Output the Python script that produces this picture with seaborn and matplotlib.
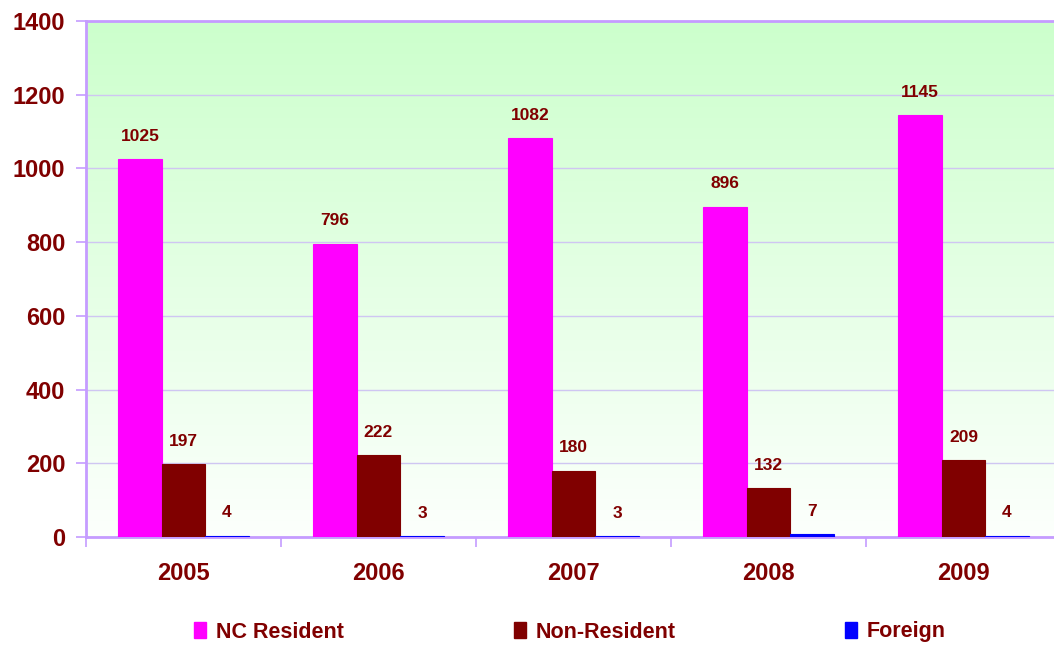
import numpy as np
import pandas as pd
import matplotlib
matplotlib.use("Agg")
import matplotlib.pyplot as plt
from matplotlib.patches import Patch
import seaborn as sns

years = ["2005", "2006", "2007", "2008", "2009"]
series_names = ["NC Resident", "Non-Resident", "Foreign"]
nc_resident = [1025, 796, 1082, 896, 1145]
non_resident = [197, 222, 180, 132, 209]
foreign = [4, 3, 3, 7, 4]
yticks = [0, 200, 400, 600, 800, 1000, 1200, 1400]

colors = ["#FF00FF", "#800000", "#0000FF"]
text_color = "#800000"
grid_color = "#CFC6F2"
spine_color = "#C59CFF"

sns.set_theme(style="white")
plt.rcParams['font.family'] = ['Liberation Sans', 'DejaVu Sans']

df = pd.DataFrame({
    "Year": years * 3,
    "Series": [series_names[0]] * 5 + [series_names[1]] * 5 + [series_names[2]] * 5,
    "Value": nc_resident + non_resident + foreign,
})

fig = plt.figure(figsize=(10.54, 6.45), dpi=100)
ax = fig.add_axes([86 / 1054, (645 - 537) / 645, 975 / 1054, 516 / 645])

# gradient background
grad = np.linspace(0, 1, 256).reshape(-1, 1)
top = np.array([0.80, 1.0, 0.80])
bot = np.array([0.99, 1.0, 0.99])
img = bot + (top - bot) * grad
img = img.reshape(256, 1, 3)
ax.imshow(img, extent=[0, 1, 0, 1], transform=ax.transAxes, aspect="auto",
          origin="lower", zorder=-10)

sns.barplot(data=df, x="Year", y="Value", hue="Series", palette=colors,
            width=0.67, gap=0, ax=ax, legend=False, saturation=1, zorder=3,
            linewidth=0)

for container, c in zip(ax.containers, colors):
    for b in container:
        b.set_edgecolor(c)
        b.set_linewidth(0.8)

ax.set_xlim(-0.5, 4.5)
ax.set_ylim(0, 1400)
ax.set_yticks(yticks)
ax.set_yticklabels([str(v) for v in yticks], fontsize=17, fontweight="bold",
                   color=text_color)
ax.set_xticks(range(5))
ax.set_xticklabels(years, fontsize=17, fontweight="bold", color=text_color)
ax.set_xticks(np.arange(-0.5, 5.0, 1.0), minor=True)
ax.tick_params(axis="x", which="major", length=0, pad=18)
ax.tick_params(axis="x", which="minor", length=7, width=1.2, color=spine_color,
               direction="out", bottom=True)
ax.tick_params(axis="y", length=7, width=1.2, color=spine_color, direction="out",
               left=True, pad=8)
ax.set_xlabel("")
ax.set_ylabel("")

ax.yaxis.grid(True, color=grid_color, linewidth=1.0, zorder=0)
ax.set_axisbelow(True)
for side in ["left", "top", "bottom"]:
    ax.spines[side].set_color(spine_color)
    ax.spines[side].set_linewidth(2)
ax.spines["right"].set_visible(False)

for container in ax.containers:
    labels = [f"{int(round(b.get_height()))}" for b in container]
    ax.bar_label(container, labels=labels, padding=11, fontsize=12.5,
                 fontweight="bold", color=text_color)

handles = [Patch(facecolor=c, edgecolor=c) for c in colors]
fig.legend(handles, series_names, loc="center", bbox_to_anchor=(0.541, 1 - 632 / 645),
           ncol=3, frameon=False, handlelength=0.55, handleheight=0.75,
           handletextpad=0.45, columnspacing=7.9,
           prop={"size": 15.5, "weight": "bold"}, labelcolor=text_color)

fig.savefig("out.png", dpi=100)
